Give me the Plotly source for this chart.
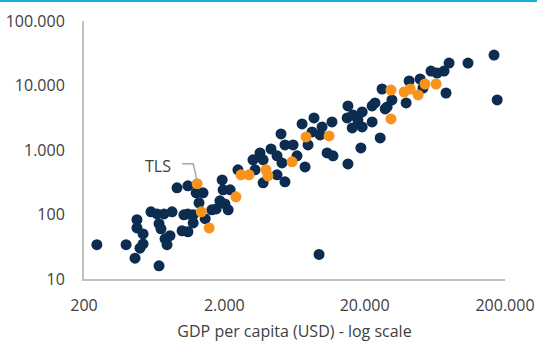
import plotly.graph_objects as go

# GDP per capita (USD) and second variable (log scale) - other countries
other_gdp = [247, 399, 462, 685, 477, 477, 527, 527, 501, 600, 663, 743, 848, 685, 707, 820, 756, 781,
             920, 1030, 1000, 1100, 1100, 1200, 1100, 1260, 1410, 1320, 1460, 1630, 1930, 1860, 2020,
             2130, 1750, 1960, 2200, 2500, 3200, 3310, 3590, 3780, 4300, 4750, 5150, 5410, 6180, 5070,
             6590, 7520, 7900, 7160, 8710, 3780, 4750, 5410, 8440, 9620, 9940, 11700, 15000, 15200,
             16500, 17900, 19200, 19200, 16300, 22600, 22600, 23700, 28000, 25800, 18800, 10800, 11900,
             15200, 26600, 31300, 28900, 39500, 41500, 49700, 52100, 59400, 65600, 73600, 79900, 109000,
             76000, 167000, 176000, 9460, 1200]
other_val = [34, 34, 21, 16, 83, 62, 50, 35, 30, 110, 102, 102, 110, 72, 60, 47, 42, 34,
             259, 99, 56, 278, 102, 74, 54, 217, 217, 152, 86, 118, 344, 163, 146,
             118, 122, 241, 241, 492, 703, 492, 902, 703, 1040, 811, 631, 1200, 1200, 1775,
             811, 547, 1200, 2535, 3140, 310, 412, 321, 1906, 1713, 2279, 2723, 3140, 4818,
             3494, 2924, 3890, 2279, 2198, 4818, 2723, 5358, 4327, 1540, 1078, 902, 811,
             609, 8830, 5964, 4645, 5358, 11740, 12610, 9150, 16770, 15620, 16770, 22290, 22290,
             7650, 29650, 5964, 24, 99]

# Highlighted group (orange)
hl_gdp = [1280, 1370, 1560, 2420, 2630, 3000, 3960, 4090, 6080, 7640, 11150, 30800, 30800,
          38200, 42200, 48100, 53800, 64600]
hl_val = [300, 110, 62, 188, 412, 412, 492, 397, 655, 1596, 1652, 8510, 3030,
          7930, 8830, 7130, 10550, 10550]

# TLS label leader
tls_label = "TLS"
tls_leader_x = [1000, 1200, 1275]
tls_leader_y = [610, 610, 345]

x_ticks = [200, 2000, 20000, 200000]
x_ticktext = ["200", "2.000", "20.000", "200.000"]
y_ticks = [10, 100, 1000, 10000, 100000]
y_ticktext = ["10", "100", "1.000", "10.000", "100.000"]

NAVY = "#0c2d4f"
ORANGE = "#f7941d"
TXT = "#404040"
FONT = "Open Sans"

fig = go.Figure()
fig.add_trace(go.Scatter(x=other_gdp, y=other_val, mode="markers",
                         marker=dict(color=NAVY, size=11, line=dict(width=0)),
                         hoverinfo="skip", showlegend=False))
fig.add_trace(go.Scatter(x=hl_gdp, y=hl_val, mode="markers",
                         marker=dict(color=ORANGE, size=11, line=dict(width=0)),
                         hoverinfo="skip", showlegend=False))
fig.add_trace(go.Scatter(x=tls_leader_x, y=tls_leader_y, mode="lines",
                         line=dict(color="#a6a6a6", width=1.5),
                         hoverinfo="skip", showlegend=False))

fig.add_annotation(x=2.9354, y=2.754, xref="x", yref="y", text=tls_label, showarrow=False,
                   xanchor="right", yanchor="middle",
                   font=dict(family=FONT, size=16, color=TXT))

fig.update_layout(
    width=537, height=342,
    margin=dict(l=84, r=32, t=21, b=63),
    paper_bgcolor="white", plot_bgcolor="white",
    font=dict(family=FONT, size=16, color=TXT),
    xaxis=dict(type="log", range=[2.30103, 5.30103], tickvals=x_ticks, ticktext=x_ticktext,
               showgrid=False, zeroline=False, showline=True, linecolor="#bfbfbf", linewidth=2,
               ticks="", ticklabelstandoff=11,
               title=dict(text="GDP per capita (USD) - log scale", standoff=13,
                          font=dict(family=FONT, size=16, color=TXT)),
               automargin=False),
    yaxis=dict(type="log", range=[1, 5], tickvals=y_ticks, ticktext=y_ticktext,
               showgrid=False, zeroline=False, showline=True, linecolor="#bfbfbf", linewidth=2,
               ticks="", ticklabelstandoff=14, automargin=False),
    shapes=[dict(type="rect", xref="paper", yref="paper",
                 x0=-84 / 421, x1=1 + 32 / 421, y0=(279.3 - 2) / 258.3, y1=(279.3 + 4) / 258.3,
                 fillcolor="#14b1e0", line=dict(width=0), layer="above")],
)

fig.write_html("out.html", config={"displayModeBar": False},
               post_script="document.body.style.margin='0';document.body.style.padding='0';")
